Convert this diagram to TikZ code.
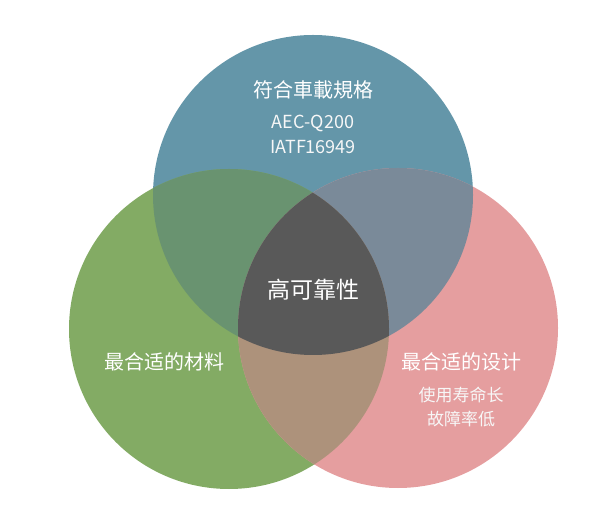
\documentclass[tikz,border=0pt]{standalone}
\usepackage{fontspec}
\newfontfamily\cjk{Noto Sans CJK SC}
\usetikzlibrary{positioning}

\definecolor{topblue}{HTML}{6496A9}
\definecolor{leftgreen}{HTML}{83AB64}
\definecolor{rightpink}{HTML}{E59E9F}
\definecolor{greenblue}{HTML}{699370}
\definecolor{bluepink}{HTML}{7A8A99}
\definecolor{greenpink}{HTML}{AD927B}
\definecolor{coregray}{HTML}{595959}

\begin{document}
\begin{tikzpicture}[
        x=1pt, y=1pt,
        title/.style={text=white, inner sep=0pt, font=\cjk\fontsize{20}{22}\selectfont},
        subtitle/.style={text=white!94!gray, inner sep=0pt, font=\cjk\fontsize{17}{19}\selectfont},
        code/.style={subtitle, font=\cjk\fontsize{18}{20}\selectfont},
        core/.style={text=white, inner sep=0pt, font=\cjk\fontsize{23}{26}\selectfont},
        ]
        \useasboundingbox (0,0) rectangle (599,519);
        \coordinate (c_top)   at (313,324);
        \coordinate (c_left)  at (229,190);
        \coordinate (c_right) at (398,191);

        % the three sets
        \fill[topblue]   (c_top)   circle (160pt);
        \fill[leftgreen] (c_left)  circle (160pt);
        \fill[rightpink] (c_right) circle (160pt);

        % pairwise overlaps
        \begin{scope}
          \clip (c_left) circle (160pt);
          \fill[greenblue] (c_top) circle (160pt);
        \end{scope}
        \begin{scope}
          \clip (c_right) circle (160pt);
          \fill[bluepink] (c_top) circle (160pt);
        \end{scope}
        \begin{scope}
          \clip (c_left) circle (160pt);
          \fill[greenpink] (c_right) circle (160pt);
        \end{scope}

        % common part
        \begin{scope}
          \clip (c_left) circle (160pt);
          \clip (c_right) circle (160pt);
          \fill[coregray] (c_top) circle (160pt);
        \end{scope}

        \node[title]    (spec)     at (313,429)       {符合車載規格};
        \node[code]     (aec)      at (313,396)       {AEC-Q200};
        \node[code]     (iatf)     at (313,372)       {IATF16949};
        \node[core]     (rel)      at (313,229)       {高可靠性};
        \node[title]    (material) at (164,157)       {最合适的材料};
        \node[title]    (design)   at (461,157)       {最合适的设计};
        \node[subtitle] (life)     [below=33pt of design.center, anchor=center] {使用寿命长};
        \node[subtitle] (fail)     [below=24pt of life.center, anchor=center]   {故障率低};
\end{tikzpicture}
\end{document}
